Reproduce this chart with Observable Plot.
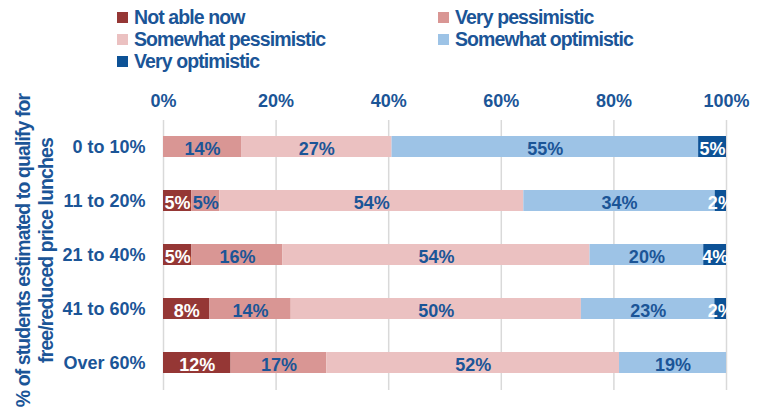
<!DOCTYPE html>
<html><head><meta charset="utf-8">
<script src="https://cdn.jsdelivr.net/npm/d3@7"></script>
<script src="https://cdn.jsdelivr.net/npm/@observablehq/plot@0.6"></script>
<style>
body{margin:0;background:#fff;}
#legend{position:relative;height:75px;width:759px;font-family:"Liberation Sans";font-weight:bold;font-size:19.5px;letter-spacing:-0.9px;color:#1b5597;}
.item{position:absolute;display:flex;align-items:center;white-space:nowrap;line-height:22px;height:22px;}
.sw{width:11px;height:11px;margin-right:6px;}
</style></head><body>
<div id="legend"></div><div id="chart"></div>
<script>
const groups = ["0 to 10%","11 to 20%","21 to 40%","41 to 60%","Over 60%"];
const categories = ["Not able now","Very pessimistic","Somewhat pessimistic","Somewhat optimistic","Very optimistic"];
const notAbleNow = [0,5,5,8,12];
const veryPessimistic = [14,5,16,14,17];
const somewhatPessimistic = [27,54,54,50,52];
const somewhatOptimistic = [55,34,20,23,19];
const veryOptimistic = [5,2,4,2,0];
const xTicks = [0,0.2,0.4,0.6,0.8,1];
const colors = ["#953735","#d99694","#ebc1c1","#9dc3e6","#0d5296"];
const whiteLabelCats = ["Not able now","Very optimistic"];
const textBlue = "#1b5597";
const yTitle = "% of students estimated to qualify for\nfree/reduced price lunches";

const series = [notAbleNow, veryPessimistic, somewhatPessimistic, somewhatOptimistic, veryOptimistic];
const data = groups.flatMap((g,i)=>categories.map((c,j)=>({group:g, cat:c, value:series[j][i]})));

// legend
const legendPos = [[117,6],[438,6],[117,28],[438,28],[117,50]];
const leg = document.getElementById("legend");
categories.forEach((c,i)=>{
  const it = document.createElement("div");
  it.className="item";
  it.style.left=legendPos[i][0]+"px"; it.style.top=legendPos[i][1]+"px";
  const sw=document.createElement("span"); sw.className="sw"; sw.style.background=colors[i];
  const t=document.createElement("span"); t.textContent=c;
  it.appendChild(sw); it.appendChild(t); leg.appendChild(it);
});

const stackOpts = {offset:"normalize", x:"value", y:"group", z:"cat", order:categories};
const chart = Plot.plot({
  width:759, height:335,
  marginTop:45, marginBottom:20, marginLeft:163, marginRight:33,
  style:{fontFamily:"Liberation Sans", fontWeight:"bold", fontSize:"18px", color:textBlue, background:"white"},
  x:{domain:[0,1], ticks:xTicks, tickFormat:d=>Math.round(d*100)+"%", axis:"top", tickSize:0, tickPadding:14, label:null},
  y:{domain:groups, tickSize:0, tickPadding:18, label:null, paddingInner:0.61, paddingOuter:0.305},
  color:{domain:categories, range:colors},
  marks:[
    Plot.ruleX(xTicks, {stroke:"#d9d9d9", strokeWidth:1.5}),
    Plot.barX(data, Plot.stackX({...stackOpts, fill:"cat"})),
    Plot.text(data, Plot.stackX({...stackOpts,
      text:d=> (d.value>0 && !whiteLabelCats.includes(d.cat)) ? d.value+"%" : null,
      fill:textBlue, fontSize:18, fontWeight:"bold", dy:2})),
    Plot.text(data, Plot.stackX({...stackOpts,
      text:d=> (d.value>0 && whiteLabelCats.includes(d.cat)) ? d.value+"%" : null,
      fill:"white", fontSize:18, fontWeight:"bold", dy:2})),
    Plot.text([yTitle], {frameAnchor:"left", rotate:-90, dx:-129, dy:-5,
      fontFamily:"Liberation Sans", fontSize:19.5, lineHeight:1.18, fontWeight:"bold",
      fill:textBlue, textAnchor:"middle", lineAnchor:"middle"})
  ]
});
d3.select(chart).selectAll("text").filter(function(){ return this.textContent.includes("students"); })
  .style("letter-spacing","-0.9px");
document.getElementById("chart").appendChild(chart);
</script>
</body></html>
